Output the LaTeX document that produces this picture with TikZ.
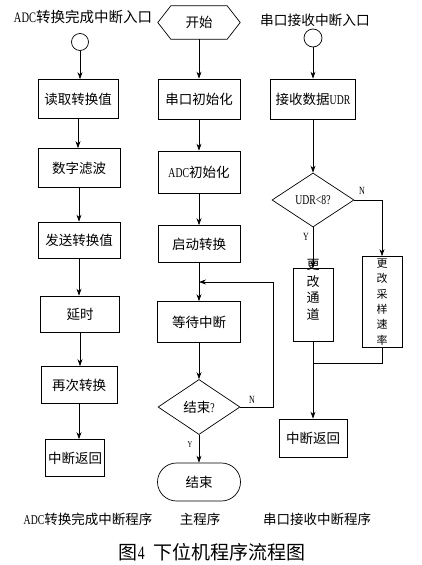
\documentclass[tikz,border=0pt]{standalone}
\usepackage{fontspec}
\setmainfont{Noto Sans CJK SC}
\newfontfamily\latinf[FakeStretch=0.72]{Liberation Serif}
\usetikzlibrary{shapes.geometric,arrows.meta}
\newcommand{\lt}[1]{{\latinf #1}}
\begin{document}
\begin{tikzpicture}[x=1pt,y=-1pt,
  box/.style={draw, line width=0.7pt, inner sep=0pt, font=\fontsize{13.5}{16}\selectfont},
  dia/.style={draw, diamond, aspect=1.5, line width=0.7pt, inner sep=0pt, font=\fontsize{13.5}{16}\selectfont},
  entry/.style={draw, circle, line width=0.7pt, inner sep=0pt},
  lbl/.style={inner sep=0pt, font=\fontsize{13.5}{16}\selectfont},
  yn/.style={inner sep=0pt, font=\fontsize{11}{12}\latinf},
  arr/.style={-{Stealth[length=7pt,width=5pt]}, line width=0.7pt},
  ln/.style={line width=0.7pt}
]
\fill[white] (0,0) rectangle (422,565);
\useasboundingbox (0,0) rectangle (422,565);

% ---------- ADC interrupt column ----------
\node[lbl, font=\fontsize{14.5}{16}\selectfont] (lblA) at (83,17) {\lt{ADC}转换完成中断入口};
\node[entry, minimum size=17pt] (cA) at (80,42) {};
\node[box, minimum width=80pt, minimum height=39pt] (a1) at (78,99) {读取转换值};
\node[box, minimum width=82pt, minimum height=39pt] (a2) at (79,168) {数字滤波};
\node[box, minimum width=82pt, minimum height=36pt] (a3) at (79,240) {发送转换值};
\node[box, minimum width=79pt, minimum height=36pt] (a4) at (80,314) {延时};
\node[box, minimum width=76pt, minimum height=37pt] (a5) at (79,385) {再次转换};
\node[box, minimum width=59pt, minimum height=37pt] (a6) at (75,458) {中断返回};

\draw[arr] (cA.south) -- (cA.south |- a1.north);
\draw[arr] (a1.south) -- (a1.south |- a2.north);
\draw[arr] (a2.south) -- (a2.south |- a3.north);
\draw[arr] (a3.south) -- (a3.south |- a4.north);
\draw[arr] (a4.south) -- (a4.south |- a5.north);
\draw[arr] (a5.south) -- (a5.south |- a6.north);

% ---------- main program column ----------
\node[lbl, minimum width=82pt, minimum height=33pt] (start) at (199,22.5) {开始};
\draw[ln] (start.west) -- ([xshift=13pt]start.north west) -- ([xshift=-13pt]start.north east)
  -- (start.east) -- ([xshift=-13pt]start.south east) -- ([xshift=13pt]start.south west) -- cycle;
\node[box, minimum width=82pt, minimum height=40pt] (m1) at (199,99) {串口初始化};
\node[box, minimum width=82pt, minimum height=42pt] (m2) at (199,172) {\lt{ADC}初始化};
\node[box, minimum width=82pt, minimum height=37pt] (m3) at (199,244) {启动转换};
\node[box, minimum width=83pt, minimum height=41pt] (m4) at (199,322) {等待中断};
\node[dia, minimum width=82pt, minimum height=55pt] (m5) at (199,407) {结束\lt{?}};
\node[box, rounded corners=19pt, minimum width=83pt, minimum height=38pt] (m6) at (199,482) {结束};
\coordinate (lp) at (273,282);
\coordinate (join) at (199,282);

\draw[arr] (start.south) -- (m1.north);
\draw[arr] (m1) -- (m2);
\draw[arr] (m2) -- (m3);
\draw[arr] (m3) -- (m4);
\draw[arr] (m4) -- (m5);
\draw[arr] (m5) -- (m6);
\draw[arr] (m5.east) -| (lp) -- (join);
\node[yn] (nN1) at (252,400) {N};
\node[yn, font=\fontsize{9}{10}\latinf] (nY1) at (190,445) {Y};

% ---------- serial interrupt column ----------
\node[lbl, font=\fontsize{13.7}{16}\selectfont] (lblS) at (315,20) {串口接收中断入口};
\node[entry, minimum size=18pt] (cS) at (313,38) {};
\node[box, minimum width=85pt, minimum height=40pt] (s1) at (313,99) {接收数据\lt{UDR}};
\node[dia, minimum width=82pt, minimum height=54pt] (s2) at (313,200) {\lt{UDR<8?}};
\node[box, minimum width=40pt, minimum height=73pt] (s3) at (313,305) {};
\node[lbl, align=center, font=\fontsize{13}{16.5}\selectfont] (t3) at (313,290) {更\\改\\通\\道};
\node[box, minimum width=40pt, minimum height=91pt, align=center, font=\fontsize{11}{15.4}\selectfont] (s4) at (382,302) {更\\改\\采\\样\\速\\率};
\coordinate (merge) at (313,363);
\node[box, minimum width=68pt, minimum height=38pt] (s5) at (313,438) {中断返回};

\draw[arr] (cS) -- (s1);
\draw[arr] (s1) -- (s2);
\draw[arr] (s2.south) -- (s3.north);
\draw[arr] (s2.east) -| (s4.north);
\draw[ln] (s4.south) |- (merge);
\draw[arr] (s3.south) -- (s5.north);
\node[yn] (nN2) at (362,191) {N};
\node[yn] (nY2) at (306,237) {Y};

% ---------- captions ----------
\node[lbl] (capA) at (88,519) {\lt{ADC}转换完成中断程序};
\node[lbl] (capM) at (200,519) {主程序};
\node[lbl] (capS) at (317,519) {串口接收中断程序};
\node[lbl, font=\fontsize{19}{22}\selectfont] (title) at (212,552) {图\lt{4}\hspace{0.45em}下位机程序流程图};
\end{tikzpicture}
\end{document}
